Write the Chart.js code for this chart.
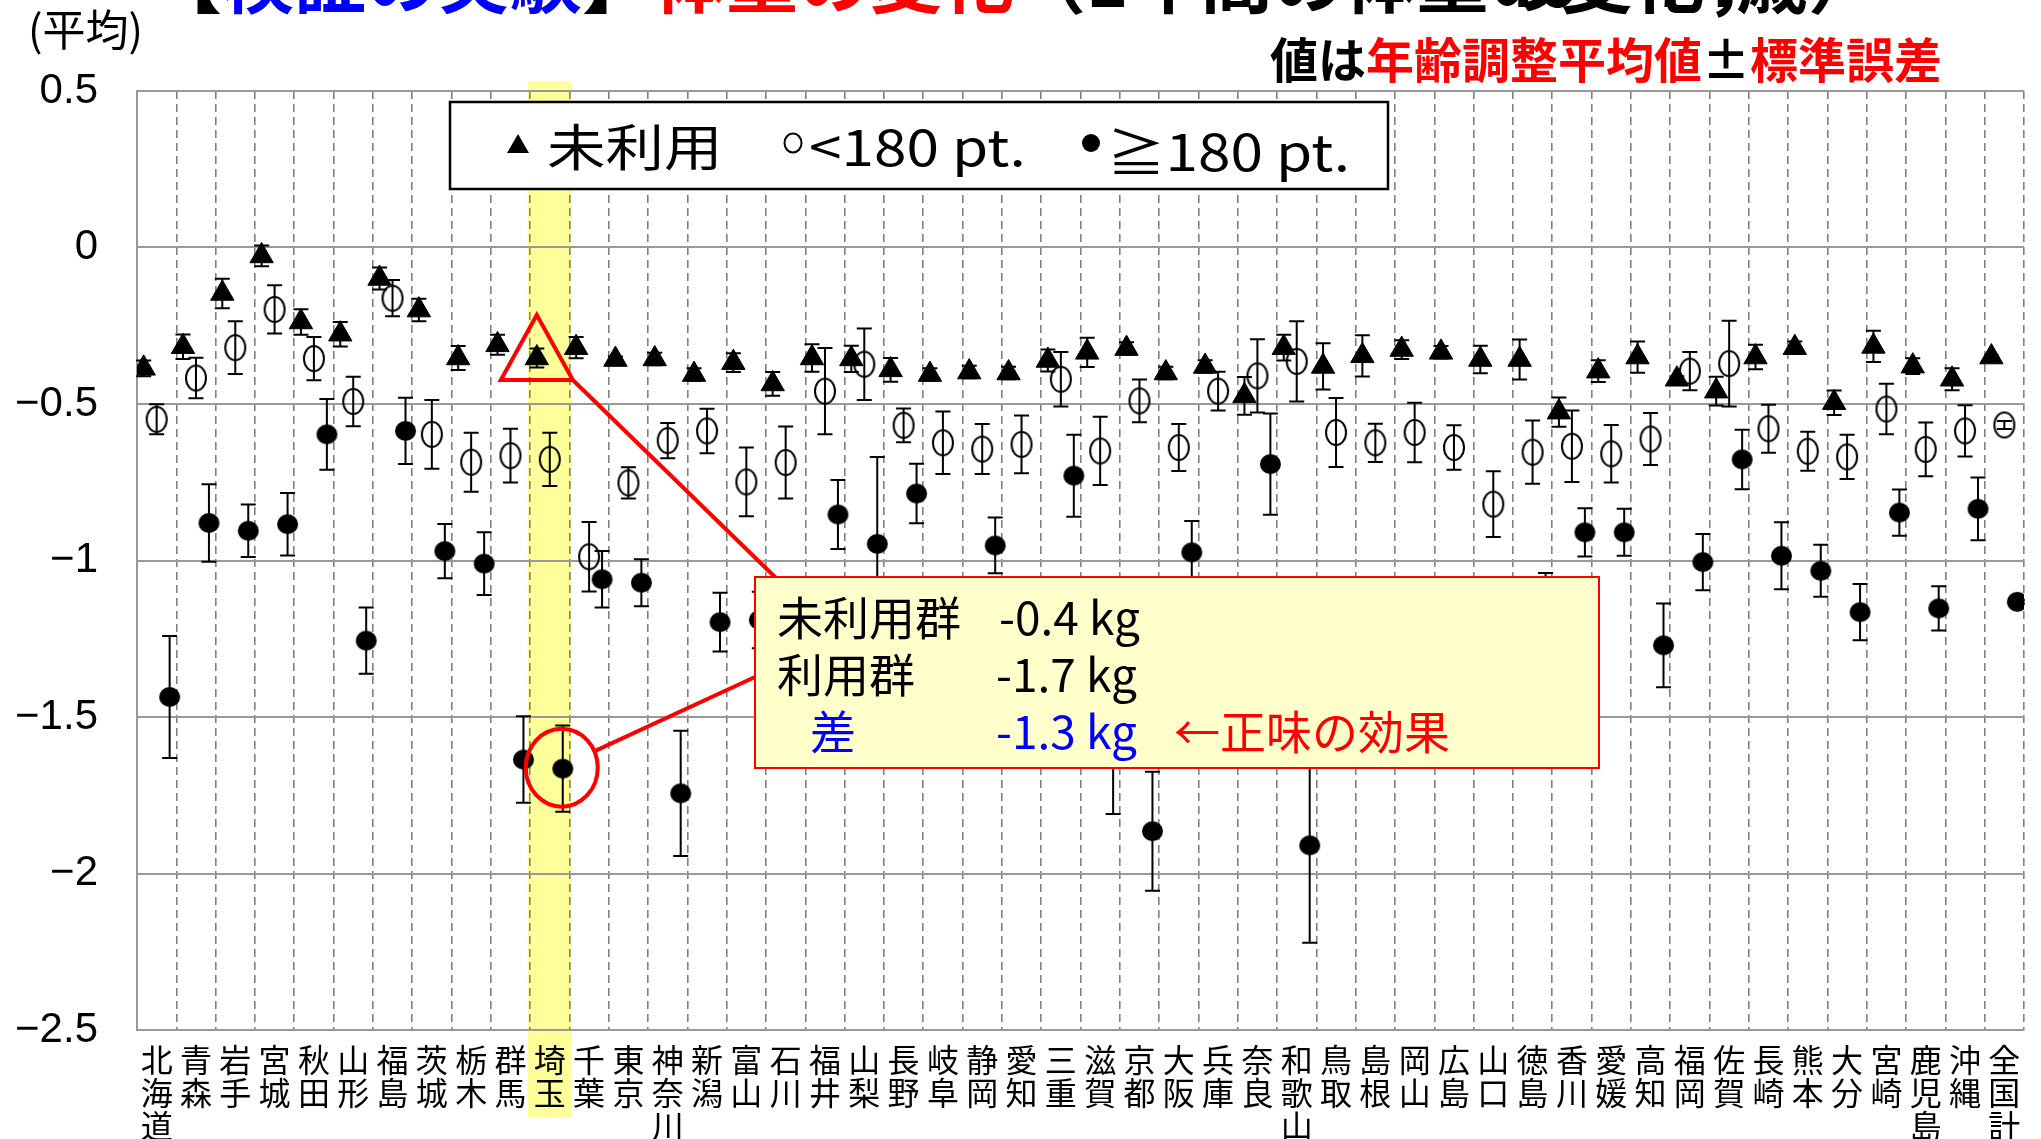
<!DOCTYPE html>
<html><head><meta charset="utf-8">
<script src="https://cdn.jsdelivr.net/npm/chart.js@4/dist/chart.umd.min.js"></script>
<style>html,body{margin:0;padding:0;background:#fff;overflow:hidden}canvas{display:block}</style>
</head><body>
<canvas id="c" width="2041" height="1139"></canvas>
<script>
// ---------- DATA ----------
const categories = ['北海道','青森','岩手','宮城','秋田','山形','福島','茨城','栃木','群馬','埼玉','千葉','東京','神奈川','新潟','富山','石川','福井','山梨','長野','岐阜','静岡','愛知','三重','滋賀','京都','大阪','兵庫','奈良','和歌山','鳥取','島根','岡山','広島','山口','徳島','香川','愛媛','高知','福岡','佐賀','長崎','熊本','大分','宮崎','鹿児島','沖縄','全国計'];
const seriesNames = ['未利用','<180 pt.','≧180 pt.'];
// 未利用 (triangle)
const unusedMean = [-0.386,-0.317,-0.147,-0.027,-0.238,-0.277,-0.099,-0.200,-0.353,-0.311,-0.353,-0.320,-0.358,-0.356,-0.406,-0.368,-0.436,-0.353,-0.356,-0.391,-0.406,-0.398,-0.401,-0.361,-0.335,-0.323,-0.401,-0.380,-0.474,-0.320,-0.380,-0.346,-0.326,-0.335,-0.358,-0.358,-0.526,-0.395,-0.350,-0.421,-0.459,-0.350,-0.320,-0.496,-0.316,-0.379,-0.421,-0.350];
const unusedSE   = [0.025,0.039,0.047,0.033,0.041,0.039,0.035,0.036,0.038,0.032,0.030,0.034,0.010,0.020,0.020,0.030,0.038,0.044,0.042,0.038,0.020,0.020,0.020,0.035,0.047,0.020,0.020,0.020,0.060,0.041,0.074,0.066,0.030,0.020,0.044,0.064,0.047,0.035,0.050,0.010,0.046,0.039,0.020,0.039,0.050,0.025,0.035,0.005];
// <180 pt. (open circle)
const lowMean = [-0.549,-0.417,-0.320,-0.198,-0.355,-0.492,-0.162,-0.597,-0.686,-0.665,-0.677,-0.988,-0.752,-0.617,-0.586,-0.749,-0.687,-0.459,-0.373,-0.568,-0.624,-0.644,-0.629,-0.421,-0.650,-0.490,-0.639,-0.459,-0.410,-0.364,-0.591,-0.624,-0.591,-0.639,-0.820,-0.654,-0.635,-0.659,-0.612,-0.395,-0.371,-0.579,-0.651,-0.669,-0.516,-0.645,-0.586,-0.567];
const lowSE   = [0.048,0.065,0.084,0.077,0.069,0.079,0.058,0.110,0.094,0.086,0.085,0.111,0.050,0.056,0.071,0.110,0.115,0.138,0.114,0.054,0.100,0.080,0.092,0.087,0.109,0.068,0.075,0.062,0.117,0.128,0.110,0.061,0.095,0.071,0.105,0.101,0.114,0.092,0.083,0.061,0.137,0.077,0.062,0.071,0.081,0.086,0.082,0.013];
// ≧180 pt. (filled circle)
const highMean = [-1.436,-0.880,-0.905,-0.884,-0.597,-1.256,-0.586,-0.970,-1.010,-1.636,-1.665,-1.060,-1.071,-1.744,-1.197,-1.190,-1.300,-0.853,-0.947,-0.786,-1.250,-0.952,-1.300,-0.729,-1.520,-1.865,-0.974,-1.250,-0.692,-1.910,-1.350,-1.300,-1.350,-1.300,-1.400,-1.200,-0.910,-0.910,-1.271,-1.005,-0.677,-0.985,-1.033,-1.165,-0.847,-1.153,-0.835,-1.132];
const highSE   = [0.195,0.124,0.084,0.100,0.113,0.106,0.106,0.087,0.100,0.138,0.138,0.090,0.075,0.200,0.094,0.090,0.100,0.110,0.278,0.095,0.100,0.089,0.080,0.131,0.290,0.190,0.100,0.100,0.162,0.311,0.100,0.100,0.100,0.100,0.120,0.160,0.077,0.075,0.134,0.090,0.095,0.107,0.083,0.090,0.074,0.071,0.100,0.005];
const yTickValues = [0.5, 0, -0.5, -1, -1.5, -2, -2.5];
const highlightIndex = 10;
const annoLines = [['未利用群','-0.4 kg'],['利用群','-1.7 kg'],['差','-1.3 kg','←正味の効果']];

// ---------- helpers ----------
const JP = "'Noto Sans CJK JP', 'Noto Sans', sans-serif";
function txt(ctx, s, x, y, font, color, align, base, sx) {
  ctx.save();
  ctx.font = font; ctx.fillStyle = color;
  ctx.textAlign = align || 'left'; ctx.textBaseline = base || 'middle';
  ctx.translate(x, y); ctx.scale(sx || 1, 1);
  ctx.fillText(s, 0, 0);
  const w = ctx.measureText(s).width * (sx || 1);
  ctx.restore();
  return w;
}
function ellipseMarker(rx, ry, filled, lw) {
  const c = document.createElement('canvas');
  c.width = Math.ceil(2 * rx + lw + 4); c.height = Math.ceil(2 * ry + lw + 4);
  const g = c.getContext('2d');
  g.beginPath(); g.ellipse(c.width / 2, c.height / 2, rx, ry, 0, 0, Math.PI * 2);
  if (filled) { g.fillStyle = '#000'; g.fill(); }
  else { g.lineWidth = lw; g.strokeStyle = '#000'; g.stroke(); }
  return c;
}
const OFF = [-0.33, 0, 0.33];
function pts(arr, k) { return arr.map((v, i) => ({x: i + OFF[k], y: v})); }

// ---------- plugins ----------
const highlight = {
  id: 'highlight',
  beforeDraw(chart) {
    const {ctx, chartArea} = chart; const xs = chart.scales.x2;
    const cw = xs.getPixelForValue(1) - xs.getPixelForValue(0);
    const cx = xs.getPixelForValue(highlightIndex);
    ctx.save(); ctx.fillStyle = '#FFFF99';
    ctx.fillRect(cx - cw * 0.56, chartArea.top - 10, cw * 1.12, chartArea.bottom - chartArea.top + 97);
    ctx.restore();
  }
};
const errorBars = {
  id: 'errorBars',
  beforeDatasetsDraw(chart) {
    const {ctx} = chart; const xs = chart.scales.x2, ys = chart.scales.y;
    ctx.save(); ctx.strokeStyle = '#000'; ctx.lineWidth = 2;
    chart.data.datasets.forEach(ds => {
      ds.data.forEach((p, i) => {
        const e = ds.errors[i]; const x = xs.getPixelForValue(p.x);
        const y1 = ys.getPixelForValue(p.y + e), y2 = ys.getPixelForValue(p.y - e);
        ctx.beginPath();
        ctx.moveTo(x, y1); ctx.lineTo(x, y2);
        ctx.moveTo(x - 7.5, y1); ctx.lineTo(x + 7.5, y1);
        ctx.moveTo(x - 7.5, y2); ctx.lineTo(x + 7.5, y2);
        ctx.stroke();
      });
    });
    ctx.restore();
  }
};
const annotation = {
  id: 'annotation',
  afterDatasetsDraw(chart) {
    const {ctx} = chart;
    const t = chart.getDatasetMeta(0).data[highlightIndex];
    const f = chart.getDatasetMeta(2).data[highlightIndex];
    const bx = 755, by = 577, bw = 844, bh = 191;
    ctx.save();
    ctx.strokeStyle = '#FF0000'; ctx.lineWidth = 4; ctx.lineJoin = 'miter';
    ctx.beginPath();
    ctx.moveTo(t.x, t.y - 43); ctx.lineTo(t.x + 36, t.y + 22); ctx.lineTo(t.x - 36, t.y + 22); ctx.closePath();
    ctx.stroke();
    ctx.beginPath(); ctx.moveTo(t.x + 36, t.y + 22); ctx.lineTo(bx + 22, by + 2); ctx.stroke();
    ctx.beginPath(); ctx.ellipse(f.x - 1, f.y - 1, 36, 39, 0, 0, Math.PI * 2); ctx.stroke();
    ctx.beginPath(); ctx.moveTo(f.x + 33, f.y - 18); ctx.lineTo(bx, by + 100); ctx.stroke();
    ctx.fillStyle = '#FFFFCC'; ctx.fillRect(bx, by, bw, bh);
    ctx.lineWidth = 2; ctx.strokeRect(bx, by, bw, bh);
    ctx.restore();
    const F = '46px ' + JP;
    txt(ctx, annoLines[0][0], 777, 618, F, '#000');
    txt(ctx, annoLines[0][1], 999, 618, F, '#000');
    txt(ctx, annoLines[1][0], 777, 675, F, '#000');
    txt(ctx, annoLines[1][1], 996, 675, F, '#000');
    txt(ctx, annoLines[2][0], 810, 732, F, '#0000FF');
    txt(ctx, annoLines[2][1], 996, 732, F, '#0000FF');
    txt(ctx, annoLines[2][2], 1174, 732, F, '#FF0000');
  }
};
const decor = {
  id: 'decor',
  afterDraw(chart) {
    const {ctx} = chart;
    // title (mostly cut off at the top edge)
    const TF = 'bold 72px ' + JP;
    let x = 150;
    [['【','#000'],['検証の実験','#0000FF'],['】','#000'],['体重の変化','#FF0000'],['（1年間の体重の変化，','#000']].forEach(([s, c]) => {
      x += txt(ctx, s, x, 16, TF, c, 'left', 'ideographic');
    });
    txt(ctx, '40～74歳）', 1880, 16, TF, '#000', 'right', 'ideographic');
    // (平均)
    txt(ctx, '(平均)', 28, 30, '43px ' + JP, '#000', 'left', 'middle', 1.0);
    // 値は年齢調整平均値±標準誤差
    const SF = 'bold 48px ' + JP;
    let sx = 1270;
    [['値は','#000'],['年齢調整平均値','#FF0000'],['±','#000'],['標準誤差','#FF0000']].forEach(([s, c]) => {
      sx += txt(ctx, s, sx, 60, SF, c);
    });
    // legend box
    ctx.save();
    ctx.fillStyle = '#fff'; ctx.fillRect(450, 102, 938, 87);
    ctx.strokeStyle = '#000'; ctx.lineWidth = 2.5; ctx.strokeRect(450, 102, 938, 87);
    ctx.fillStyle = '#000';
    ctx.beginPath(); ctx.moveTo(518, 134); ctx.lineTo(529, 153); ctx.lineTo(507, 153); ctx.closePath(); ctx.fill();
    ctx.lineWidth = 2; ctx.beginPath(); ctx.ellipse(793, 143, 8.5, 9.5, 0, 0, Math.PI * 2); ctx.stroke();
    ctx.beginPath(); ctx.ellipse(1091, 143, 9, 9, 0, 0, Math.PI * 2); ctx.fill();
    ctx.restore();
    const LF = '50px ' + JP;
    txt(ctx, seriesNames[0], 547, 147, LF, '#000', 'left', 'middle', 1.17);
    txt(ctx, seriesNames[1], 809, 147, LF, '#000', 'left', 'middle', 1.17);
    txt(ctx, seriesNames[2], 1107, 152, LF, '#000', 'left', 'middle', 1.17);
  }
};

// ---------- chart ----------
const openMarker = ellipseMarker(10, 12.5, false, 2);
const fillMarker = ellipseMarker(10.5, 10, true, 0);
const ctx = document.getElementById('c').getContext('2d');
new Chart(ctx, {
  type: 'scatter',
  data: {
    datasets: [
      {label: seriesNames[0], data: pts(unusedMean, 0), errors: unusedSE, xAxisID: 'x2', yAxisID: 'y',
       pointStyle: 'triangle', pointRadius: 13.5, backgroundColor: '#000', borderColor: '#000', borderWidth: 1},
      {label: seriesNames[1], data: pts(lowMean, 1), errors: lowSE, xAxisID: 'x2', yAxisID: 'y',
       pointStyle: openMarker, pointRadius: 10, backgroundColor: 'rgba(0,0,0,0)', borderColor: '#000', borderWidth: 2},
      {label: seriesNames[2], data: pts(highMean, 2), errors: highSE, xAxisID: 'x2', yAxisID: 'y',
       pointStyle: fillMarker, pointRadius: 10, backgroundColor: '#000', borderColor: '#000', borderWidth: 1}
    ]
  },
  options: {
    responsive: false, animation: false, devicePixelRatio: 1,
    layout: {padding: {top: 91, right: 17, bottom: 0, left: 0}},
    plugins: {legend: {display: false}, tooltip: {enabled: false}},
    scales: {
      x: {
        type: 'category', labels: categories.map(s => s.split('')), offset: true, position: 'bottom',
        grid: {offset: true, color: '#808080', lineWidth: 1.6, drawTicks: false},
        border: {display: true, color: '#999', width: 2, dash: [8, 5]},
        ticks: {color: '#000', font: {family: JP, size: 32, lineHeight: 1.02}, padding: 14, maxRotation: 0, minRotation: 0, autoSkip: false},
        afterFit(s) { s.height = 109; }
      },
      x2: {type: 'linear', display: false, min: -0.5, max: 47.5},
      y: {
        min: -2.5, max: 0.5,
        afterBuildTicks(s) { s.ticks = yTickValues.map(v => ({value: v})); },
        grid: {color: '#999', lineWidth: 2, drawTicks: false},
        border: {display: true, color: '#999', width: 2},
        ticks: {color: '#000', font: {family: "'Liberation Sans', Arial, sans-serif", size: 42}, padding: 39,
                callback: v => v === 0 ? '0' : (v < 0 ? '−' : '') + Math.abs(v)},
        afterFit(s) { s.width = 137; }
      }
    }
  },
  plugins: [highlight, errorBars, annotation, decor]
});
</script>
</body></html>
